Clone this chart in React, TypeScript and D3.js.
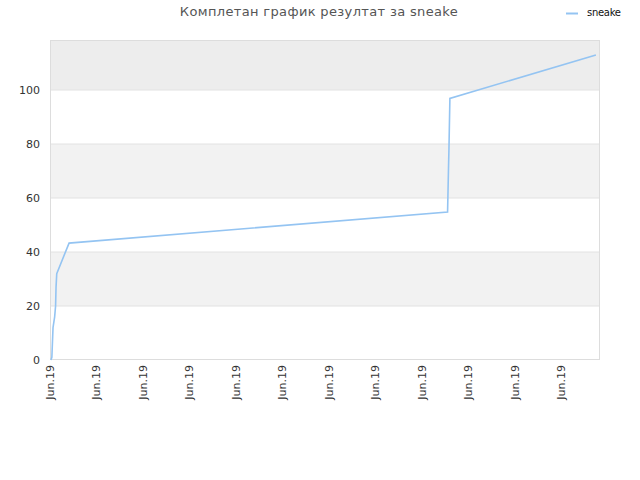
import React from "react";
import * as d3 from "d3";

const title = "Комплетан график резултат за sneake";
const seriesName = "sneake";
// x in days since start, y = score
const days = [0.02, 0.04, 0.065, 0.1, 0.12, 0.13, 0.145, 0.41, 8.55, 8.57, 8.58, 8.6, 11.74];
const values = [0, 1, 12, 16, 20, 27, 32, 43.3, 54.8, 71, 78.4, 96.9, 113];
const yTicks = [0, 20, 40, 60, 80, 100];
const xTickDays = [0, 1, 2, 3, 4, 5, 6, 7, 8, 9, 10, 11];
const xTickLabel = "Jun.19";

export default function App() {
  const W = 640, H = 480;
  const left = 50, right = 600, top = 40, bottom = 360;
  const x = d3.scaleLinear().domain([0, 550 / 46.5]).range([left, right]);
  const y = d3.scaleLinear().domain([0, 100]).range([bottom, 90]);
  const yMax = y.invert(top);
  const bands: [number, number][] = [];
  for (let v = 20; v < yMax; v += 40) bands.push([v, Math.min(v + 20, yMax)]);
  const line = d3.line<number>().x((_, i) => x(days[i])).y((d) => y(d));
  const font = "'DejaVu Sans', Verdana, sans-serif";
  return (
    <svg width={W} height={H} style={{ position: "absolute", left: 0, top: 0, background: "#fff" }}>
      <rect x={0} y={0} width={W} height={H} fill="#fff" />
      {bands.map(([a, b], i) => (
        <rect key={i} x={left} y={y(b)} width={right - left} height={y(a) - y(b)} fill={b >= yMax ? "#ededed" : "#f2f2f2"} />
      ))}
      {yTicks.slice(1).map((t) => (
        <line key={t} x1={left} x2={right} y1={y(t)} y2={y(t)} stroke="#e2e2e2" strokeWidth={1} />
      ))}
      <rect x={left + 0.5} y={top + 0.5} width={right - left - 1} height={bottom - top - 1} fill="none" stroke="#dddddd" />
      <path d={line(values) || ""} fill="none" stroke="#94c4f2" strokeWidth={1.6} />
      {yTicks.map((t) => (
        <text key={t} x={40} y={y(t) + 4} textAnchor="end" fontSize={11} fill="#333" fontFamily={font}>{t}</text>
      ))}
      {xTickDays.map((d) => (
        <text key={d} transform={`translate(${x(d) + 3.5},${bottom + 5}) rotate(-90)`} textAnchor="end" fontSize={11} fill="#333" fontFamily={font}>{xTickLabel}</text>
      ))}
      <text x={319} y={16} textAnchor="middle" fontSize={13} fill="#555" fontFamily={font} letterSpacing={0.35}>{title}</text>
      <line x1={566} x2={578} y1={13.5} y2={13.5} stroke="#94c4f2" strokeWidth={2} />
      <text x={587} y={16} fontSize={10} fill="#111" fontFamily={font} letterSpacing={-0.3}>{seriesName}</text>
    </svg>
  );
}
